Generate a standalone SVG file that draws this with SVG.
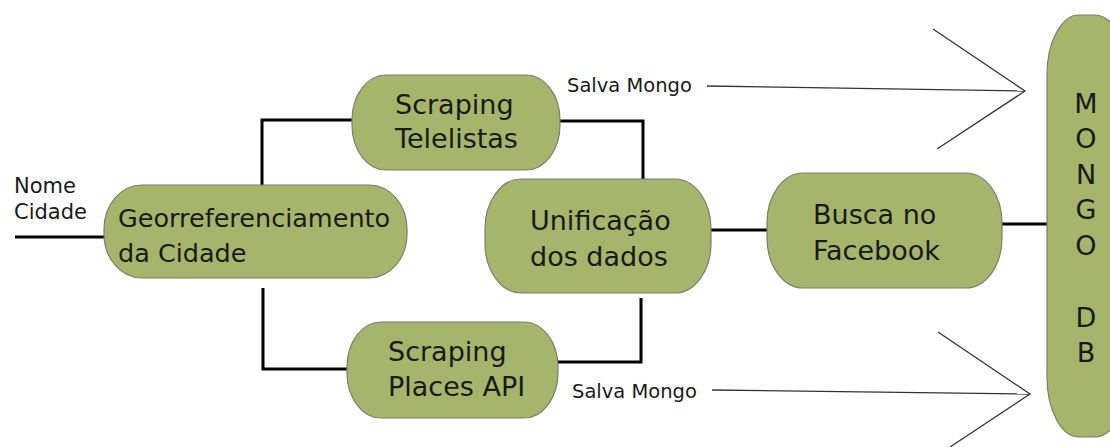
<svg xmlns="http://www.w3.org/2000/svg" width="1110" height="447" viewBox="0 0 1110 447">
<style>
.node{fill:#a5b56b;stroke:#7d7d6e;stroke-width:1.2}
.t{font-family:"DejaVu Sans",sans-serif;font-size:27px;fill:#1a1a1a}
.s{font-family:"DejaVu Sans",sans-serif;font-size:19.5px;fill:#1a1a1a}
.l{font-family:"DejaVu Sans",sans-serif;font-size:21px;fill:#1a1a1a}
.c{fill:none;stroke:#000;stroke-width:3}
.a{fill:none;stroke:#333;stroke-width:1.3}
</style>
<rect width="1110" height="447" fill="#fff"/>
<g id="connectors">
<line class="c" x1="15" y1="237" x2="105" y2="237"/>
<polyline class="c" points="262,185 262,120 352,120"/>
<polyline class="c" points="263,288 263,369 347,369"/>
<polyline class="c" points="560,121 643,121 643,179"/>
<polyline class="c" points="558,362 641,362 641,298"/>
<line class="c" x1="711" y1="230" x2="767" y2="230"/>
<line class="c" x1="1002" y1="224" x2="1047" y2="224"/>
<line class="a" x1="707" y1="86" x2="1025" y2="91"/>
<polyline class="a" points="933,29 1025,91 937,149"/>
<line class="a" x1="712" y1="390" x2="1030" y2="394"/>
<polyline class="a" points="938,332 1030,394 950,447"/>
<text class="s" x="567" y="92">Salva Mongo</text>
<text class="s" x="572" y="398">Salva Mongo</text>
<text class="l" x="14" y="193">Nome</text>
<text class="l" x="14" y="219">Cidade</text>
</g>
<g id="georef">
<rect class="node" x="104" y="185" width="303" height="93" rx="38" ry="44"/>
<text class="t" x="118" y="227" style="font-size:25.5px">Georreferenciamento</text>
<text class="t" x="118" y="262" style="font-size:25.5px">da Cidade</text>
</g>
<g id="telelistas">
<rect class="node" x="352" y="75" width="208" height="95" rx="34" ry="45"/>
<text class="t" x="395" y="114">Scraping</text>
<text class="t" x="395" y="148">Telelistas</text>
</g>
<g id="places">
<rect class="node" x="347" y="322" width="211" height="96" rx="34" ry="45"/>
<text class="t" x="388" y="361">Scraping</text>
<text class="t" x="388" y="396">Places API</text>
</g>
<g id="unificacao">
<rect class="node" x="485" y="179" width="226" height="114" rx="36" ry="50"/>
<text class="t" x="530" y="230">Unificação</text>
<text class="t" x="530" y="266">dos dados</text>
</g>
<g id="busca">
<rect class="node" x="767" y="173" width="235" height="115" rx="36" ry="50"/>
<text class="t" x="813" y="224">Busca no</text>
<text class="t" x="813" y="260">Facebook</text>
</g>
<g id="mongo">
<rect class="node" x="1047" y="15" width="80" height="422" rx="32" ry="60"/>
<text class="t" x="1086" y="113" text-anchor="middle">M</text>
<text class="t" x="1086" y="148" text-anchor="middle">O</text>
<text class="t" x="1086" y="184" text-anchor="middle">N</text>
<text class="t" x="1086" y="219" text-anchor="middle">G</text>
<text class="t" x="1086" y="255" text-anchor="middle">O</text>
<text class="t" x="1086" y="327" text-anchor="middle">D</text>
<text class="t" x="1086" y="362" text-anchor="middle">B</text>
</g>
</svg>
